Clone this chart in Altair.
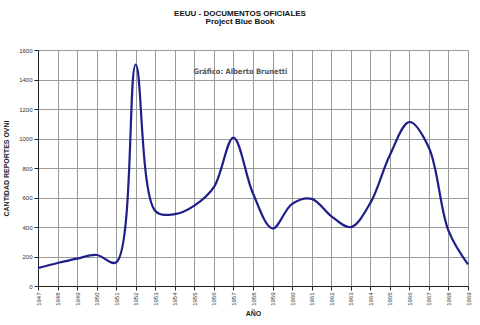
import altair as alt
import pandas as pd

years = list(range(1947, 1970))
reports = [122, 156, 186, 210, 160, 1501, 509, 487, 545, 670, 1006, 627, 390,
           557, 591, 474, 399, 562, 887, 1112, 937, 375, 146]

note_text = ["Gráfico: Alberto Brunetti"]
note_x = [1954.95]
note_y = [1450]

df = pd.DataFrame({"year": years, "reports": reports})
note = pd.DataFrame({"year": note_x, "reports": note_y, "t": note_text})

x = alt.X("year:Q", title="AÑO",
          scale=alt.Scale(domain=[1947, 1969], nice=False, zero=False),
          axis=alt.Axis(values=years, format="d", labelAngle=-90, labelFontSize=6,
                        labelOverlap=False, grid=True, gridWidth=1,
                        labelColor="#333", labelFont="Liberation Sans",
                        titleFont="Liberation Sans", titleFontSize=7, titleFontWeight="bold",
                        titleColor="#222", titlePadding=4,
                        domainColor="#222", tickColor="#222", tickSize=4,
                        gridColor="#9a9a9a", labelPadding=2, labelFlush=False))
y = alt.Y("reports:Q", title="CANTIDAD REPORTES OVNI",
          scale=alt.Scale(domain=[0, 1600], nice=False),
          axis=alt.Axis(values=list(range(0, 1601, 200)), format="d", labelFontSize=6,
                        labelOverlap=False, grid=True, gridWidth=1,
                        labelColor="#333", labelFont="Liberation Sans",
                        titleFont="Liberation Sans", titleFontSize=7, titleFontWeight="bold",
                        titleColor="#222", titlePadding=9,
                        domainColor="#222", tickColor="#222", tickSize=4,
                        gridColor="#9a9a9a"))

line = alt.Chart(df).mark_line(color="#1f1f8a", strokeWidth=2.2,
                               interpolate="catmull-rom").encode(x=x, y=y)

txt = alt.Chart(note).mark_text(align="left", baseline="middle", fontSize=7.5,
                                fontWeight="bold", font="DejaVu Sans Condensed",
                                color="#555").encode(x=x, y=y, text="t:N")

chart = (line + txt).properties(
    width=430, height=236,
    title=alt.TitleParams("EEUU - DOCUMENTOS OFICIALES", subtitle="Project Blue Book",
                          anchor="middle", fontSize=8, subtitleFontSize=8,
                          font="Liberation Sans", subtitleFont="Liberation Sans",
                          fontWeight="bold", subtitleFontWeight="bold",
                          color="#111", subtitleColor="#111", subtitlePadding=0,
                          offset=21, dx=-13),
    autosize=alt.AutoSizeParams(type="none"),
    padding={"left": 38, "top": 50, "right": 12, "bottom": 39},
).configure_view(stroke="#9a9a9a").configure(background="white")

chart.save("out.html", embed_options={"renderer": "svg", "actions": False})
